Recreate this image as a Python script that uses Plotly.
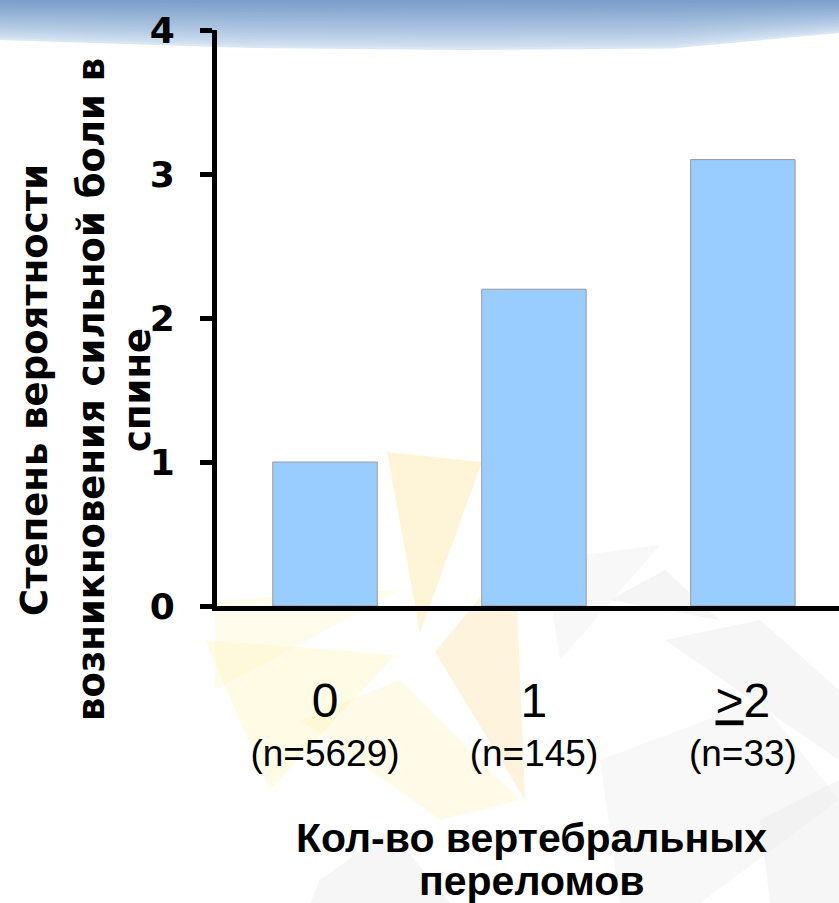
import plotly.graph_objects as go

# ---- data ----
categories = ["0", "1", ">=2"]
n_counts = [5629, 145, 33]
odds_values = [1.0, 2.2, 3.1]
y_ticks = [0, 1, 2, 3, 4]

W, H = 839, 903
L, R, T, B = 217, 0, 30, 297
PW, PH = W - L - R, H - T - B


def px(x):
    return (x - L) / PW


def py(y):
    return (H - B - y) / PH


def path(points):
    return "M " + " L ".join(f"{px(x):.5f},{py(y):.5f}" for x, y in points) + " Z"


def lerp_col(c1, c2, t):
    a = [int(c1[i:i + 2], 16) for i in (1, 3, 5)]
    b = [int(c2[i:i + 2], 16) for i in (1, 3, 5)]
    return "#" + "".join(f"{round(a[k] + (b[k] - a[k]) * t):02x}" for k in range(3))


cat_labels = []
for c, n in zip(categories, n_counts):
    main = c
    if c.startswith(">="):
        main = "<span style='text-decoration:underline'>&gt;</span>" + c[2:]
    cat_labels.append(f"<span style='font-size:48px'>{main}</span><br>(n={n})")

fig = go.Figure()
fig.add_trace(go.Bar(
    x=[0, 1, 2], y=odds_values,
    marker=dict(color="#99CCFF", line=dict(color="#9a9a9a", width=1)),
    width=0.5, hoverinfo="skip",
))

shapes = []
# top blue gradient band (stacked layers, lightest/largest first)
nb = 20
for i in range(nb):
    t = i / (nb - 1)
    col = lerp_col("#d9e7f5", "#7c9fcb", t ** 0.8)
    f = i / nb
    yl = 40 * (1 - f)
    ym = 50 * (1 - f)
    yr = 33 * (1 - f)
    pts = [(0, -5), (W, -5), (W, yr), (W * 0.8, ym * 0.97), (W * 0.55, ym), (W * 0.3, ym * 0.96), (0, yl)]
    shapes.append(dict(type="path", xref="paper", yref="paper", path=path(pts),
                       fillcolor=col, line=dict(width=0), layer="below"))

# faint background triangles
tris = [
    ([(205, 640), (395, 655), (270, 790)], "rgba(255,246,190,0.40)"),
    ([(215, 600), (400, 590), (215, 690)], "rgba(255,246,200,0.35)"),
    ([(387, 452), (482, 462), (420, 633)], "rgba(253,232,170,0.45)"),
    ([(435, 652), (515, 555), (525, 800)], "rgba(253,225,170,0.40)"),
    ([(300, 720), (400, 680), (520, 800), (440, 820)], "rgba(255,244,190,0.35)"),
    ([(320, 880), (390, 830), (450, 903), (310, 903)], "rgba(235,235,235,0.45)"),
    ([(610, 600), (665, 570), (720, 620)], "rgba(236,236,236,0.5)"),
    ([(545, 560), (660, 545), (560, 660)], "rgba(240,240,240,0.45)"),
    ([(665, 640), (760, 620), (839, 690), (839, 760)], "rgba(238,238,238,0.5)"),
    ([(600, 760), (760, 700), (839, 800), (700, 903), (620, 903)], "rgba(240,240,240,0.45)"),
    ([(760, 820), (839, 780), (839, 903), (770, 903)], "rgba(234,234,234,0.45)"),
]
for pts, col in tris:
    shapes.append(dict(type="path", xref="paper", yref="paper", path=path(pts),
                       fillcolor=col, line=dict(width=0), layer="below"))

annotations = []
ytitle_lines = ["Степень вероятности", "возникновения сильной боли в", "спине"]
ytitle_x = [34, 91, 137]
for txt, xx in zip(ytitle_lines, ytitle_x):
    annotations.append(dict(text=f"<b>{txt}</b>", xref="paper", yref="paper",
                            x=px(xx), y=py(390), xanchor="center", yanchor="middle",
                            textangle=-90, showarrow=False,
                            font=dict(family="DejaVu Sans, Verdana, sans-serif", size=37, color="black")))
xtitle_lines = ["Кол-во вертебральных", "переломов"]
xtitle_y = [838, 881]
for txt, yy in zip(xtitle_lines, xtitle_y):
    annotations.append(dict(text=f"<b>{txt}</b>", xref="paper", yref="paper",
                            x=px(531), y=py(yy), xanchor="center", yanchor="middle",
                            showarrow=False,
                            font=dict(family="Liberation Sans, Arial, sans-serif", size=41, color="black")))

fig.update_layout(
    width=W, height=H,
    margin=dict(l=L, r=R, t=T, b=B, autoexpand=False),
    paper_bgcolor="white", plot_bgcolor="rgba(0,0,0,0)",
    showlegend=False,
    shapes=shapes,
    annotations=annotations,
    xaxis=dict(
        range=[-0.517, 2.46], tickmode="array", tickvals=[0, 1, 2], ticktext=cat_labels,
        showgrid=False, zeroline=False, showline=True, linecolor="black", linewidth=5,
        ticks="", ticklabelstandoff=62,
        tickfont=dict(family="Liberation Sans, Arial, sans-serif", size=37, color="black"),
    ),
    yaxis=dict(
        range=[0, 4], tickmode="array", tickvals=y_ticks, ticktext=[f"<b>{v}</b>" for v in y_ticks],
        showgrid=False, zeroline=False, showline=True, linecolor="black", linewidth=5,
        ticks="outside", ticklen=12, tickwidth=5, tickcolor="black",
        ticklabelstandoff=18,
        tickfont=dict(family="DejaVu Sans, Verdana, sans-serif", size=36, color="black"),
    ),
)

fig.write_html("out.html")
